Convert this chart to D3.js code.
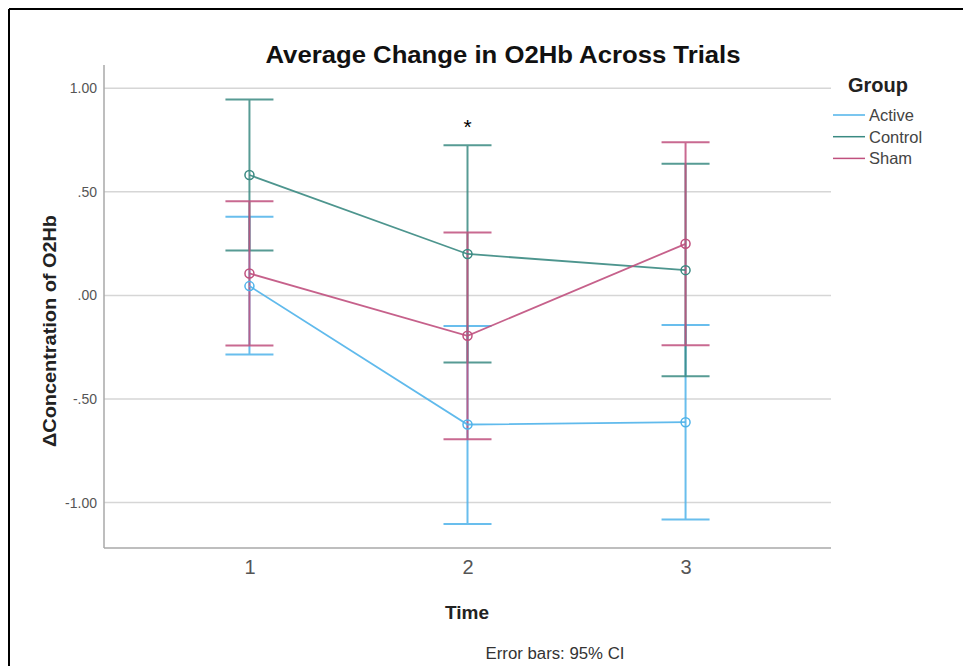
<!DOCTYPE html>
<html>
<head>
    <meta charset="utf-8">
    <title>Average Change in O2Hb Across Trials</title>
    <script type="text/javascript" src="https://d3js.org/d3.v7.min.js"></script>
    <style>
      body { margin: 0; background: #fff; }
      text { font-family: "Liberation Sans", Arial, sans-serif; }
    </style>
</head>
<body>
<script type="text/javascript">
    // data
    var times = ["1", "2", "3"]
    var groups = ["Active", "Control", "Sham"]
    var colors = ["#4fb3ea", "#3a8a82", "#c0507e"]
    var means = {
        Active:  [0.045, -0.623, -0.612],
        Control: [0.581, 0.200, 0.122],
        Sham:    [0.106, -0.195, 0.249]
    }
    var lower = {
        Active:  [-0.285, -1.103, -1.081],
        Control: [0.217, -0.324, -0.390],
        Sham:    [-0.242, -0.694, -0.240]
    }
    var upper = {
        Active:  [0.380, -0.148, -0.143],
        Control: [0.945, 0.725, 0.636],
        Sham:    [0.454, 0.304, 0.739]
    }
    var yTicks = [-1, -0.5, 0, 0.5, 1]
    var yTickLabels = ["-1.00", "-.50", ".00", ".50", "1.00"]

    var width = 963, height = 666
    var svg = d3.select("body").append("svg")
        .attr("width", width).attr("height", height)

    // frame (top and left only)
    svg.append("line").attr("x1", 9).attr("y1", 9).attr("x2", width).attr("y2", 9)
        .attr("stroke", "#000").attr("stroke-width", 2)
    svg.append("line").attr("x1", 9).attr("y1", 9).attr("x2", 9).attr("y2", height)
        .attr("stroke", "#000").attr("stroke-width", 2)

    var pLeft = 104, pRight = 831, pTop = 65, pBottom = 548
    var x = d3.scalePoint().domain(times).range([pLeft, pRight]).padding(0.667)
    var y = d3.scaleLinear().domain([-1.219, 1.112]).range([pBottom, pTop])
    var color = d3.scaleOrdinal().domain(groups).range(colors)

    // gridlines
    svg.append("g").selectAll("line").data(yTicks).join("line")
        .attr("x1", pLeft).attr("x2", pRight)
        .attr("y1", function(d){ return y(d) }).attr("y2", function(d){ return y(d) })
        .attr("stroke", "#d6d6d6").attr("stroke-width", 1.5)

    // y axis
    var yAxis = d3.axisLeft(y).tickValues(yTicks)
        .tickFormat(function(d, i){ return yTickLabels[i] })
        .tickSize(0).tickPadding(7)
    var gy = svg.append("g").attr("transform", "translate(" + pLeft + ",0)").call(yAxis)
    gy.select(".domain").remove()
    gy.selectAll("text").attr("font-size", 14).attr("fill", "#555")
    svg.append("line").attr("x1", pLeft).attr("x2", pLeft).attr("y1", pTop).attr("y2", pBottom)
        .attr("stroke", "#a8a8a8").attr("stroke-width", 1.5)

    // x axis
    var xAxis = d3.axisBottom(x).tickSize(0).tickPadding(12)
    var gx = svg.append("g").attr("transform", "translate(0," + pBottom + ")").call(xAxis)
    gx.select(".domain").remove()
    gx.selectAll("text").attr("font-size", 20).attr("fill", "#555")
    svg.append("line").attr("x1", pLeft).attr("x2", pRight).attr("y1", pBottom).attr("y2", pBottom)
        .attr("stroke", "#a8a8a8").attr("stroke-width", 1.5)

    // error bars
    var capHalf = 24
    groups.forEach(function(g){
        var eg = svg.append("g").attr("class", "err_" + g)
            .attr("stroke", color(g)).attr("stroke-width", 2).attr("opacity", 0.85)
        times.forEach(function(t, i){
            eg.append("line").attr("x1", x(t)).attr("x2", x(t))
                .attr("y1", y(lower[g][i])).attr("y2", y(upper[g][i]))
            eg.append("line").attr("x1", x(t) - capHalf).attr("x2", x(t) + capHalf)
                .attr("y1", y(lower[g][i])).attr("y2", y(lower[g][i]))
            eg.append("line").attr("x1", x(t) - capHalf).attr("x2", x(t) + capHalf)
                .attr("y1", y(upper[g][i])).attr("y2", y(upper[g][i]))
        })
    })

    // mean lines and markers
    var line = d3.line()
        .x(function(d, i){ return x(times[i]) })
        .y(function(d){ return y(d) })
    groups.forEach(function(g){
        svg.append("path").datum(means[g])
            .attr("d", line).attr("fill", "none")
            .attr("stroke", color(g)).attr("stroke-width", 1.8).attr("opacity", 0.9)
        svg.append("g").selectAll("circle").data(means[g]).join("circle")
            .attr("cx", function(d, i){ return x(times[i]) })
            .attr("cy", function(d){ return y(d) })
            .attr("r", 4.5).attr("fill", "none")
            .attr("stroke", color(g)).attr("stroke-width", 1.5)
    })

    // significance marker over time 2
    svg.append("text").attr("x", x("2")).attr("y", 134)
        .attr("text-anchor", "middle").attr("font-size", 21).attr("fill", "#000").text("*")

    // title and axis labels
    svg.append("text").attr("x", 503).attr("y", 63).attr("text-anchor", "middle")
        .attr("font-size", 23).attr("font-weight", "bold").attr("fill", "#111")
        .attr("textLength", 475).attr("lengthAdjust", "spacingAndGlyphs")
        .text("Average Change in O2Hb Across Trials")
    svg.append("text").attr("x", 467).attr("y", 619).attr("text-anchor", "middle")
        .attr("font-size", 19).attr("font-weight", "bold").attr("fill", "#222").text("Time")
    svg.append("text").attr("transform", "translate(56,331) rotate(-90)")
        .attr("text-anchor", "middle")
        .attr("font-size", 18).attr("font-weight", "bold").attr("fill", "#222")
        .attr("textLength", 232).attr("lengthAdjust", "spacingAndGlyphs")
        .text("\u0394Concentration of O2Hb")
    svg.append("text").attr("x", 555).attr("y", 659).attr("text-anchor", "middle")
        .attr("font-size", 16).attr("fill", "#333")
        .attr("textLength", 139).attr("lengthAdjust", "spacingAndGlyphs")
        .text("Error bars: 95% CI")

    // legend
    var lg = svg.append("g").attr("transform", "translate(833,0)")
    lg.append("text").attr("x", 15).attr("y", 92)
        .attr("font-size", 20).attr("font-weight", "bold").attr("fill", "#222").text("Group")
    var items = lg.selectAll("g.item").data(groups).join("g").attr("class", "item")
        .attr("transform", function(d, i){ return "translate(0," + (115 + i * 21.7) + ")" })
    items.append("line").attr("x1", 0).attr("x2", 32)
        .attr("stroke", function(d){ return color(d) }).attr("stroke-width", 1.5)
    items.append("text").attr("x", 36).attr("y", 6)
        .attr("font-size", 16.5).attr("fill", "#444").text(function(d){ return d })
</script>
</body>
</html>
